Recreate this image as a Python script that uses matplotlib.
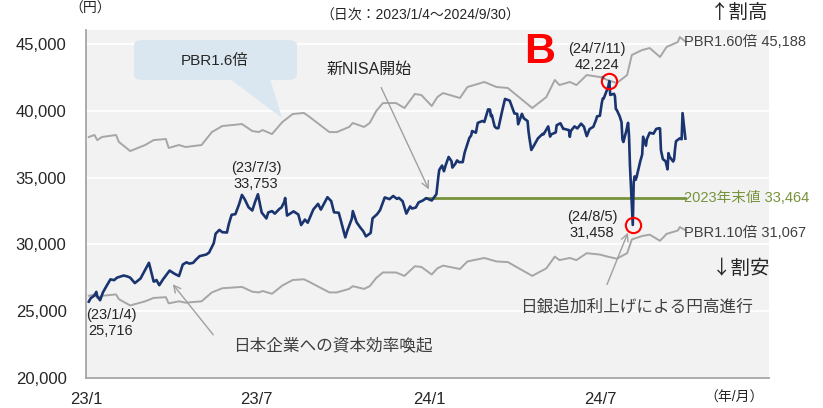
import matplotlib
matplotlib.use('Agg')
import matplotlib.pyplot as plt
import pandas as pd
from matplotlib.patches import FancyBboxPatch, Polygon

plt.rcParams['font.family'] = ['Liberation Sans', 'Noto Sans CJK JP', 'DejaVu Sans']

# ---------------- data ----------------
nk_dates = [
    "2023-01-04", "2023-01-06", "2023-01-10", "2023-01-12", "2023-01-13", "2023-01-16", "2023-01-19",
    "2023-01-23", "2023-01-27", "2023-01-31", "2023-02-03", "2023-02-10", "2023-02-14", "2023-02-17",
    "2023-02-22", "2023-02-28", "2023-03-06", "2023-03-09", "2023-03-14", "2023-03-15", "2023-03-17",
    "2023-03-20", "2023-03-24", "2023-03-31", "2023-04-05", "2023-04-10", "2023-04-14", "2023-04-18",
    "2023-04-21", "2023-04-25", "2023-04-28", "2023-05-02", "2023-05-09", "2023-05-12", "2023-05-17",
    "2023-05-19", "2023-05-23", "2023-05-26", "2023-05-31", "2023-06-02", "2023-06-05", "2023-06-09",
    "2023-06-13", "2023-06-16", "2023-06-19", "2023-06-23", "2023-06-27", "2023-06-30", "2023-07-03",
    "2023-07-07", "2023-07-12", "2023-07-14", "2023-07-18", "2023-07-21", "2023-07-26", "2023-07-28",
    "2023-07-31", "2023-08-01", "2023-08-03", "2023-08-08", "2023-08-10", "2023-08-15", "2023-08-18",
    "2023-08-22", "2023-08-25", "2023-08-31", "2023-09-05", "2023-09-08", "2023-09-15", "2023-09-19",
    "2023-09-22", "2023-09-27", "2023-09-29", "2023-10-04", "2023-10-06", "2023-10-11", "2023-10-12",
    "2023-10-16", "2023-10-20", "2023-10-23", "2023-10-26", "2023-10-31", "2023-11-02", "2023-11-07",
    "2023-11-10", "2023-11-15", "2023-11-20", "2023-11-24", "2023-11-28", "2023-11-30", "2023-12-04",
    "2023-12-08", "2023-12-12", "2023-12-14", "2023-12-18", "2023-12-21", "2023-12-26", "2023-12-29",
    "2024-01-04", "2024-01-05", "2024-01-09", "2024-01-10", "2024-01-11", "2024-01-12", "2024-01-15",
    "2024-01-17", "2024-01-19", "2024-01-22", "2024-01-25", "2024-01-26", "2024-01-29", "2024-01-31",
    "2024-02-02", "2024-02-06", "2024-02-08", "2024-02-13", "2024-02-15", "2024-02-16", "2024-02-20",
    "2024-02-22", "2024-02-27", "2024-02-29", "2024-03-04", "2024-03-06", "2024-03-07", "2024-03-08",
    "2024-03-11", "2024-03-13", "2024-03-15", "2024-03-19", "2024-03-22", "2024-03-27", "2024-03-29",
    "2024-04-01", "2024-04-04", "2024-04-05", "2024-04-09", "2024-04-11", "2024-04-15", "2024-04-16",
    "2024-04-17", "2024-04-19", "2024-04-23", "2024-04-26", "2024-05-01", "2024-05-02", "2024-05-07",
    "2024-05-09", "2024-05-10", "2024-05-15", "2024-05-16", "2024-05-20", "2024-05-23", "2024-05-24",
    "2024-05-29", "2024-05-30", "2024-05-31", "2024-06-04", "2024-06-07", "2024-06-11", "2024-06-14",
    "2024-06-17", "2024-06-20", "2024-06-24", "2024-06-27", "2024-06-28", "2024-07-01", "2024-07-03",
    "2024-07-04", "2024-07-05", "2024-07-10", "2024-07-11", "2024-07-12", "2024-07-16", "2024-07-17",
    "2024-07-18", "2024-07-19", "2024-07-22", "2024-07-24", "2024-07-25", "2024-07-26", "2024-07-29",
    "2024-07-31", "2024-08-01", "2024-08-02", "2024-08-05", "2024-08-06", "2024-08-07", "2024-08-08",
    "2024-08-09", "2024-08-13", "2024-08-15", "2024-08-16", "2024-08-19", "2024-08-20", "2024-08-23",
    "2024-08-27", "2024-08-30", "2024-09-02", "2024-09-03", "2024-09-04", "2024-09-06", "2024-09-09",
    "2024-09-11", "2024-09-12", "2024-09-13", "2024-09-17", "2024-09-18", "2024-09-19", "2024-09-20",
    "2024-09-24", "2024-09-26", "2024-09-27", "2024-09-30",
]
nk_values = [
    25716, 25973, 26176, 26449, 26120, 25822, 26405,
    26906, 27383, 27327, 27509, 27671, 27603, 27513,
    27104, 27446, 28238, 28623, 27222, 27229, 27334,
    26946, 27385, 28041, 27813, 27633, 28493, 28658,
    28564, 28620, 28856, 29123, 29242, 29388, 30093,
    30808, 31086, 30916, 30888, 31524, 32217, 32265,
    33018, 33706, 33370, 32781, 32538, 33189, 33753,
    32388, 31943, 32391, 32493, 32304, 32668, 32759,
    33172, 33476, 32159, 32377, 32473, 32238, 31450,
    31856, 31624, 32619, 33036, 32606, 33533, 33242,
    32402, 32371, 31857, 30526, 30995, 31936, 32494,
    31659, 31259, 31000, 30601, 30859, 31950, 32272,
    32568, 33519, 33388, 33625, 33409, 33486, 33231,
    32307, 32843, 32686, 32759, 33141, 33305, 33464,
    33288, 33377, 33763, 34441, 35049, 35577, 35901,
    35477, 35963, 36546, 36236, 35751, 36026, 36287,
    36158, 36160, 36863, 37963, 38157, 38487, 38363,
    39098, 39239, 39166, 40109, 40091, 39598, 39688,
    38820, 38695, 38707, 40003, 40888, 40762, 40369,
    39803, 39773, 38992, 39773, 39442, 39233, 38471,
    37961, 37068, 37552, 37934, 38274, 38236, 38835,
    38073, 38229, 38385, 38920, 39069, 38646, 38646,
    38556, 38054, 38487, 38837, 38683, 39038, 38814,
    38102, 38633, 38804, 39341, 39583, 39631, 40580,
    40913, 40912, 41831, 42224, 41190, 41275, 41097,
    40126, 40063, 39599, 39154, 37869, 37667, 38468,
    39101, 38126, 35909, 31458, 34675, 35089, 34831,
    35025, 36232, 36726, 38062, 37388, 37880, 38364,
    38288, 38647, 38700, 38686, 37047, 36391, 36215,
    35619, 36833, 36581, 36203, 36380, 37155, 37723,
    37940, 37870, 39830, 37919,
]

# book value per share (BPS, yen) behind the PBR bands
bps_dates = [
    "2023-01-04", "2023-01-10", "2023-01-13", "2023-01-18", "2023-02-02", "2023-02-05", "2023-02-17",
    "2023-03-05", "2023-03-14", "2023-03-27", "2023-03-30", "2023-04-10", "2023-04-17", "2023-05-04",
    "2023-05-15", "2023-05-26", "2023-06-16", "2023-06-27", "2023-07-04", "2023-07-08", "2023-07-18",
    "2023-07-29", "2023-08-09", "2023-08-21", "2023-08-27", "2023-09-17", "2023-09-25", "2023-10-08",
    "2023-10-12", "2023-10-24", "2023-10-30", "2023-11-06", "2023-11-13", "2023-11-27", "2023-12-06",
    "2023-12-17", "2023-12-24", "2024-01-04", "2024-01-10", "2024-01-16", "2024-02-03", "2024-02-11",
    "2024-02-29", "2024-03-13", "2024-03-25", "2024-04-07", "2024-04-20", "2024-05-05", "2024-05-14",
    "2024-05-19", "2024-05-30", "2024-06-06", "2024-06-17", "2024-07-01", "2024-07-09", "2024-07-19",
    "2024-07-30", "2024-08-04", "2024-08-15", "2024-08-23", "2024-09-03", "2024-09-10", "2024-09-22",
    "2024-09-24", "2024-09-30",
]
bps_values = [
    23775, 23869, 23631, 23775, 23869, 23544, 23119,
    23400, 23631, 23681, 23263, 23400, 23306, 23400,
    24006, 24288, 24381, 24056, 24006, 24100, 23913,
    24475, 24850, 24900, 24713, 24006, 24006, 24244,
    24431, 24244, 24431, 24994, 25363, 25363, 25131,
    25788, 25738, 25225, 25644, 25831, 25600, 26113,
    26350, 26113, 26069, 25600, 25131, 25644, 26444,
    26206, 26350, 26206, 26675, 26581, 26444, 26300,
    26675, 27613, 27844, 27938, 27519, 27988, 28219,
    28450, 28242.5,
]
pbr_high_mult = 1.60
pbr_low_mult = 1.10
year_end_2023 = 33464
peak_date, peak_value = "2024-07-11", 42224
low_date, low_value = "2024-08-05", 31458

x_ticks = ["2023-01-01", "2023-07-01", "2024-01-01", "2024-07-01"]
x_tick_labels = ["23/1", "23/7", "24/1", "24/7"]
y_ticks = [20000, 25000, 30000, 35000, 40000, 45000]

# ---------------- figure ----------------
W, H = 823, 408
fig = plt.figure(figsize=(W / 100, H / 100), dpi=100)
ax = fig.add_axes([86 / W, 1 - 378 / H, (769 - 86) / W, (378 - 30) / H])
ax.set_facecolor('#f2f2f2')

def P(x, y):
    return (x, H - y)

nk_x = pd.to_datetime(nk_dates)
bps_x = pd.to_datetime(bps_dates)
bps = pd.Series(bps_values, index=bps_x)

gray = '#a6a6a6'
ax.plot(bps_x, bps * pbr_high_mult, color=gray, lw=1.4, zorder=3)
ax.plot(bps_x, bps * pbr_low_mult, color=gray, lw=1.4, zorder=3)
ax.plot([pd.Timestamp("2023-12-29"), pd.Timestamp("2024-09-30")], [year_end_2023, year_end_2023],
        color='#77933c', lw=2, zorder=3)
ax.plot(nk_x, nk_values, color='#1a3470', lw=1.9, zorder=4)

ax.plot([pd.Timestamp(peak_date)], [peak_value], marker='o', ms=11, mfc='none', mec='#ff0000', mew=1.5, zorder=5)
ax.plot([pd.Timestamp(low_date)], [low_value], marker='o', ms=11, mfc='none', mec='#ff0000', mew=1.5, zorder=5)

ax.set_ylim(20000, 46050)
ax.set_xlim(pd.Timestamp("2023-01-01"), pd.Timestamp("2024-12-28"))
ax.set_yticks(y_ticks)
ax.set_yticklabels([f"{v:,}" for v in y_ticks], fontsize=12, color='#262626')
ax.set_xticks(pd.to_datetime(x_ticks))
ax.set_xticklabels(x_tick_labels, fontsize=12, color='#262626')
ax.tick_params(axis='both', length=0)
ax.tick_params(axis='y', pad=14)
ax.tick_params(axis='x', pad=10)
ax.grid(axis='y', color='white', lw=1.3, zorder=0)
ax.set_axisbelow(True)
for s in ['top', 'right']:
    ax.spines[s].set_visible(False)
for s in ['left', 'bottom']:
    ax.spines[s].set_color('#a6a6a6')
    ax.spines[s].set_linewidth(1.3)

# callout box
box = FancyBboxPatch((134 / W, 1 - 80 / H), (297 - 134) / W, 40 / H,
                     boxstyle="round,pad=0,rounding_size=0.012", transform=fig.transFigure,
                     facecolor='#dbe7f0', edgecolor='none', zorder=2)
ax.add_patch(box)
tri = Polygon([(230 / W, 1 - 79 / H), (270 / W, 1 - 79 / H), (282 / W, 1 - 118 / H)], closed=True,
              transform=fig.transFigure, facecolor='#dbe7f0', edgecolor='none', zorder=2)
ax.add_patch(tri)

txt = '#262626'
def T(x, y, s, **kw):
    kw.setdefault('color', txt)
    kw.setdefault('ha', 'center')
    kw.setdefault('va', 'center')
    fig.text(x / W, 1 - y / H, s, **kw)

cjk = ['Noto Sans CJK JP', 'DejaVu Sans']
T(215, 61, "PBR1.6倍", fontsize=11)
T(90, 9, "（円）", fontsize=10)
T(420, 16, "（日次：2023/1/4～2024/9/30）", fontsize=10)
T(739, 12, "↑割高", fontsize=14, family=cjk)
T(741, 268, "↓割安", fontsize=14, family=cjk)
T(734, 398, "（年/月）", fontsize=10)
T(540, 52, "B", fontsize=31, fontweight='bold', color='#ff0000')
T(369, 69, "新NISA開始", fontsize=11.5)
T(256, 176, "(23/7/3)\n33,753", fontsize=10.5, linespacing=1.15)
T(111, 323, "(23/1/4)\n25,716", fontsize=10.5, linespacing=1.15)
T(597, 57, "(24/7/11)\n42,224", fontsize=10.5, linespacing=1.15)
T(592, 225, "(24/8/5)\n31,458", fontsize=10.5, linespacing=1.15)
T(684, 42, "PBR1.60倍 45,188", fontsize=10.5, ha='left', color='#404040')
T(684, 233, "PBR1.10倍 31,067", fontsize=10.5, ha='left', color='#404040')
T(684, 198, "2023年末値 33,464", fontsize=10.5, ha='left', color='#77933c')
T(333, 345, "日本企業への資本効率喚起", fontsize=12, color='#404040')
T(636, 307, "日銀追加利上げによる円高進行", fontsize=12, color='#404040')

arrow_kw = dict(arrowstyle='->,head_length=0.5,head_width=0.25', color='#a0a0a0', lw=1.0)
ax.annotate("", xy=P(430, 192), xycoords='figure pixels', xytext=P(380, 85), textcoords='figure pixels',
            arrowprops=arrow_kw, zorder=6)
ax.annotate("", xy=P(171, 282), xycoords='figure pixels', xytext=P(215, 337), textcoords='figure pixels',
            arrowprops=arrow_kw, zorder=6)
ax.annotate("", xy=P(629, 230), xycoords='figure pixels', xytext=P(606, 287), textcoords='figure pixels',
            arrowprops=arrow_kw, zorder=6)
ax.annotate("", xy=P(606, 80), xycoords='figure pixels', xytext=P(600, 75), textcoords='figure pixels',
            arrowprops=dict(arrowstyle='-', color='#404040', lw=1.0), zorder=6)

fig.savefig("out.png", dpi=100)
